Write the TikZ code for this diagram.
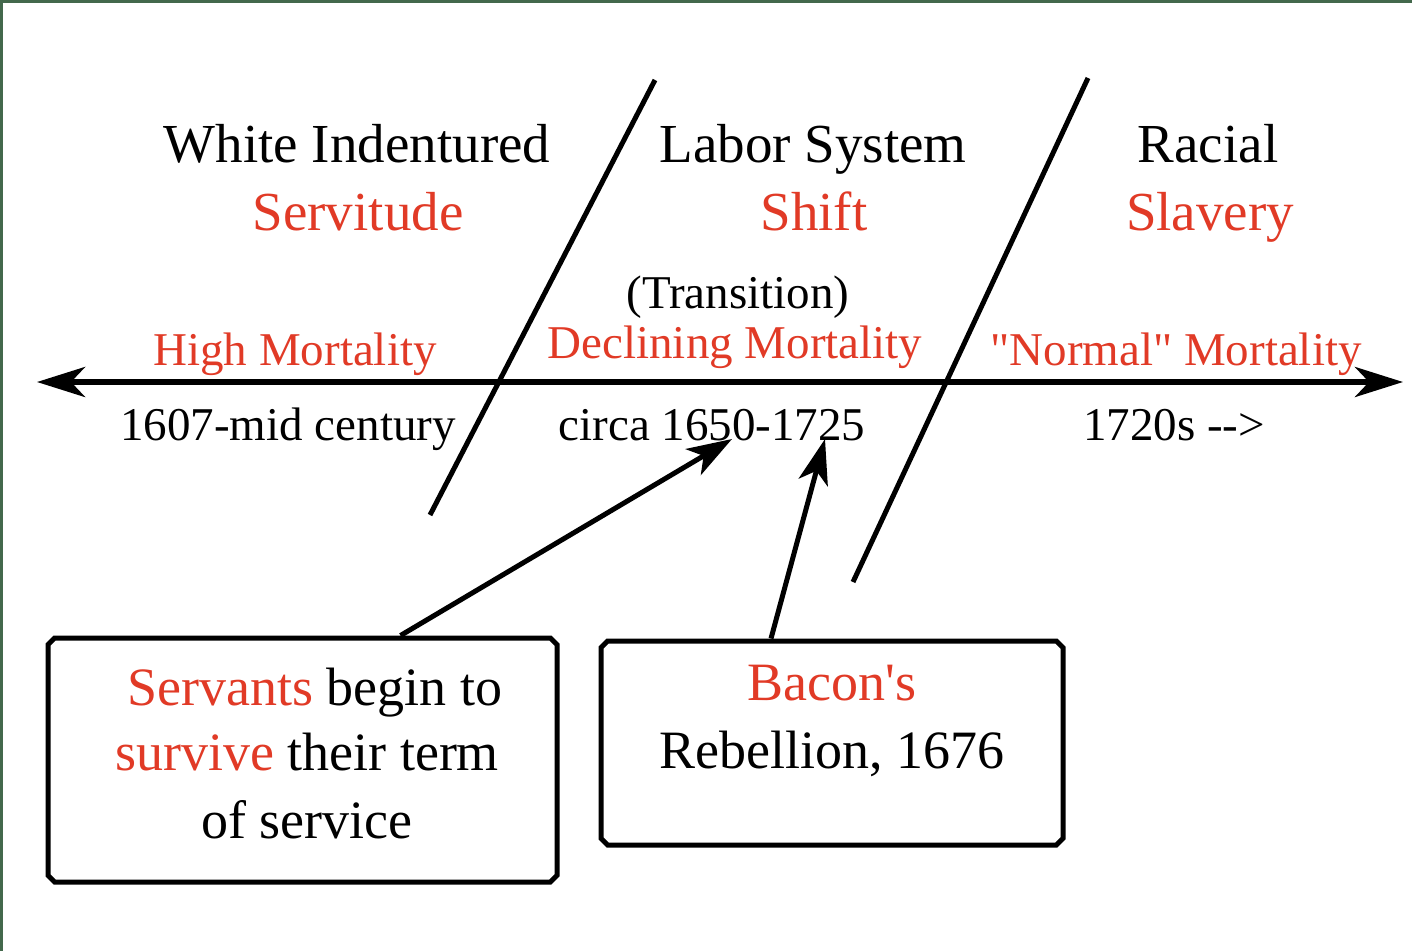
\documentclass[tikz,border=0pt]{standalone}
\usepackage{fontspec}
\setmainfont{Liberation Serif}[Ligatures=TeXOff]
\usetikzlibrary{arrows.meta, shapes.misc, calc}

\definecolor{edgegreen}{RGB}{67,104,76}
\definecolor{redtxt}{RGB}{225,58,38}

\begin{document}
\begin{tikzpicture}[x  = 1pt,
                    y  = -1pt,
                    head/.style  = {font=\fontsize{55}{68}\selectfont, inner sep=0pt, anchor=base},
                    lbl/.style   = {font=\fontsize{47}{56}\selectfont, inner sep=0pt, anchor=base},
                    boxtxt/.style= {font=\fontsize{54}{67}\selectfont, inner sep=0pt, anchor=base},
                    box/.style   = {draw, line width=5pt, chamfered rectangle,
                                    chamfered rectangle xsep=9pt, chamfered rectangle ysep=9pt},
                    slash/.style = {line width=5pt},
                    ptr/.style   = {line width=5pt, -{Stealth[length=45pt, width=30pt, inset=12pt]}}]

    \useasboundingbox[fill=white] (0,0) rectangle (1412,951);
    \fill[edgegreen] (0,0) rectangle (1412,3);
    \fill[edgegreen] (0,0) rectangle (3,951);

    % the three periods
    \node[head] (white)   at (357,162) {White Indentured};
    \node[head, text=redtxt] (servit) at (358,230) {Servitude};
    \node[head] (labor)   at (813,162) {Labor System};
    \node[head, text=redtxt] (shift)  at (814,230) {Shift};
    \node[head] (racial)  at (1208,162) {Racial};
    \node[head, text=redtxt] (slavery) at (1210,230) {Slavery};

    \draw[slash] (655,80) -- (430,515);
    \draw[slash] (1088,78) -- (853,582);

    % time line
    \coordinate (axl) at (37,382);
    \coordinate (axr) at (1403,382);
    \draw[line width=6pt, {Stealth[length=48pt, width=30pt, inset=14pt]}-{Stealth[length=48pt, width=30pt, inset=14pt]}] (axl) -- (axr);

    \node[lbl] (trans) at (738,308) {(Transition)};
    \node[lbl, text=redtxt] (highm) at (295,365) {High Mortality};
    \node[lbl, text=redtxt] (declm) at (735,358) {Declining Mortality};
    \node[lbl, text=redtxt] (normm) at (1176,365) {"Normal" Mortality};

    \node[lbl] (early) at (288,440) {1607-mid century};
    \node[lbl] (circa) at (712,440) {circa 1650-1725};
    \node[lbl] (late)  at (1174,440) {1720s -->};

    % boxes
    \node[box, minimum width=509pt, minimum height=244pt] (servbox) at (302.5,760) {};
    \node[boxtxt] (sv1) at (315,705) {\textcolor{redtxt}{Servants} begin to};
    \node[boxtxt] (sv2) at (307,770) {\textcolor{redtxt}{survive} their term};
    \node[boxtxt] (sv3) at (307,838) {of service};

    \node[box, minimum width=462pt, minimum height=204pt] (bacbox) at (832,743) {};
    \node[boxtxt, text=redtxt] (bc1) at (832,700) {Bacon's};
    \node[boxtxt] (bc2) at (832,768) {Rebellion, 1676};

    \coordinate (tip1) at (732,439);
    \coordinate (tip2) at (825,439);
    \draw[ptr] ([xshift=98pt]servbox.north) -- (tip1);
    \draw[ptr] ([xshift=-61pt]bacbox.north) -- (tip2);

\end{tikzpicture}
\end{document}
